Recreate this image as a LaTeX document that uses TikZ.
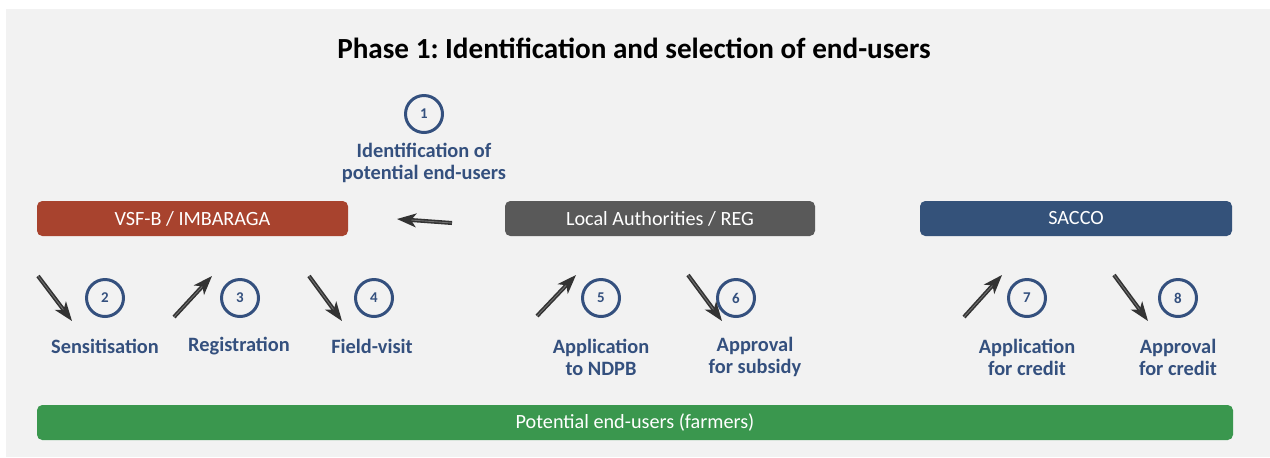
\documentclass[tikz,border=0pt]{standalone}
\usepackage{fontspec}
\setmainfont{Carlito}
\usetikzlibrary{arrows.meta}
\frenchspacing
\definecolor{bgrey}{HTML}{F2F2F2}
\definecolor{vsfred}{HTML}{A8432E}
\definecolor{lagrey}{HTML}{595959}
\definecolor{saccoblue}{HTML}{34527A}
\definecolor{farmgreen}{HTML}{3A974E}
\definecolor{stepblue}{HTML}{34507E}
\definecolor{arrowgrey}{HTML}{333333}
\tikzset{
  actor/.style={rounded corners=3pt, text=white, minimum height=35*0.02cm, inner sep=0pt, font=\fontsize{11.5}{13}\selectfont},
  stepnum/.style={circle, draw=stepblue, line width=1.7pt, minimum size=37*0.02cm, inner sep=0pt, text=stepblue, font=\fontsize{8.5}{10}\bfseries},
  steplabel/.style={text=stepblue, align=center, font=\fontsize{11.6}{12.5}\selectfont\bfseries},
  flow/.style={draw=arrowgrey, line width=0.9pt, double=arrowgrey!70, double distance=0.5pt, -{Stealth[length=11pt, width=8pt, inset=3pt]}}
}
\begin{document}
\begin{tikzpicture}[x=0.02cm, y=-0.02cm]
\useasboundingbox (0,0) rectangle (1270,457);
\fill[bgrey] (6,9) rectangle (1270,457);
\node (title) at (634,48) {\fontsize{16.6}{18}\selectfont\bfseries Phase 1: Identification and selection of end-users};

\node [actor, fill=vsfred, minimum width=311*0.02cm] (vsf) at (192.5,218.5) {VSF-B / IMBARAGA};
\node [actor, fill=lagrey, minimum width=310*0.02cm] (local) at (660,218.5) {Local Authorities / REG};
\node [actor, fill=saccoblue, minimum width=312*0.02cm] (sacco) at (1076,218.5) {SACCO};
\node [actor, fill=farmgreen, minimum width=1196*0.02cm] (farmers) at (635,422.5) {Potential end-users (farmers)};

\node [stepnum] (c1) at (424,114) {1};
\node [steplabel] (l1) at (424,163) {Identification of\\potential end-users};
\coordinate (a1s) at (452,223);
\coordinate (a1e) at (397,219);
\draw [flow] (a1s) -- (a1e);

\node [stepnum] (c2) at (105,298) {2};
\node [stepnum] (c3) at (240,298) {3};
\node [stepnum] (c4) at (374,298) {4};
\node [stepnum] (c5) at (601,298) {5};
\node [stepnum] (c6) at (736,298) {6};
\node [stepnum] (c7) at (1027,298) {7};
\node [stepnum] (c8) at (1178,298) {8};

\node [steplabel] (l2) at (105,346) {Sensitisation};
\node [steplabel] (l3) at (239,346) {Registration};
\node [steplabel] (l4) at (372,346) {Field-visit};
\node [steplabel] (l5) at (601,357) {Application\\to NDPB};
\node [steplabel] (l6) at (755,357) {Approval\\for subsidy};
\node [steplabel] (l7) at (1027,357) {Application\\for credit};
\node [steplabel] (l8) at (1178,357) {Approval\\for credit};

\coordinate (a2s) at (38,276);
\coordinate (a2e) at (72,321);
\coordinate (a3s) at (174,317);
\coordinate (a3e) at (212,276);
\coordinate (a4s) at (309,276);
\coordinate (a4e) at (342,321);
\coordinate (a5s) at (537,316);
\coordinate (a5e) at (576,275);
\coordinate (a6s) at (688,275);
\coordinate (a6e) at (722,321);
\coordinate (a7s) at (964,317);
\coordinate (a7e) at (1002,275);
\coordinate (a8s) at (1114,275);
\coordinate (a8e) at (1148,321);
\foreach \i in {2,...,8}
  \draw [flow] (a\i s) -- (a\i e);

\end{tikzpicture}
\end{document}
